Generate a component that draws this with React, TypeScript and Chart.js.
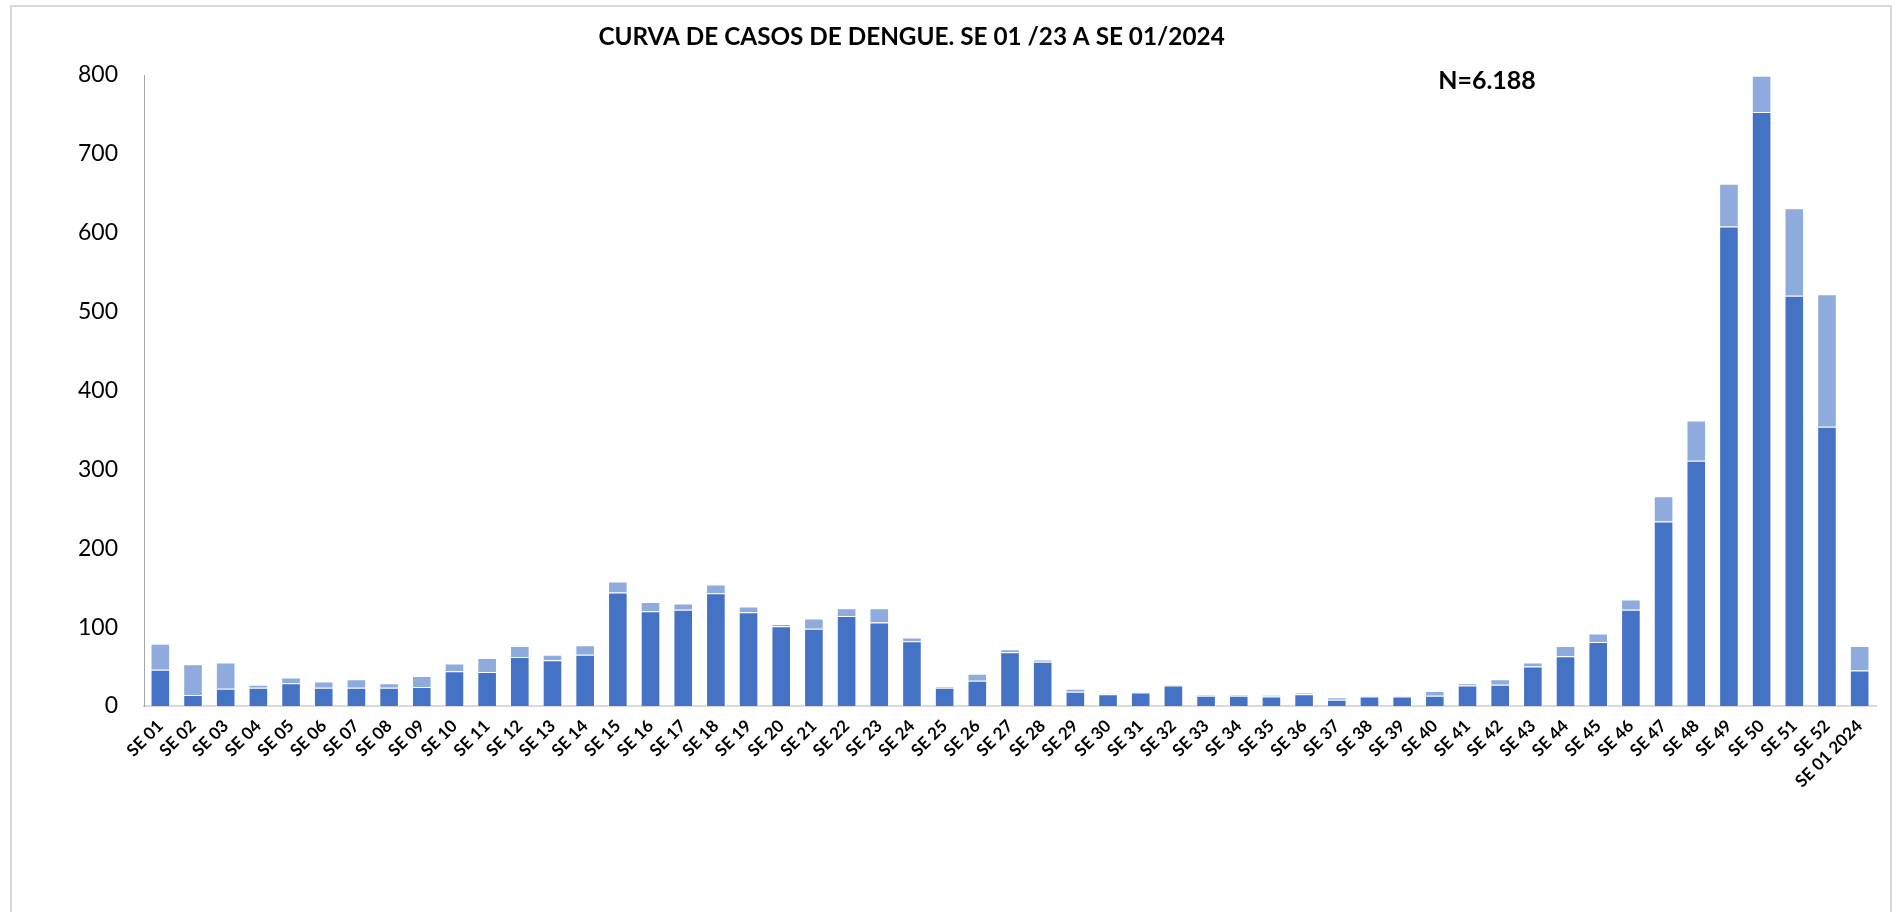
import React, { useEffect, useRef } from "react";
import { Chart, registerables } from "chart.js";

Chart.register(...registerables);

const CHART_TITLE = "CURVA DE CASOS DE DENGUE. SE 01 /23 A SE 01/2024";
const TOTAL_LABEL = "N=6.188";

const categories = [
  "SE 01", "SE 02", "SE 03", "SE 04", "SE 05", "SE 06", "SE 07", "SE 08", "SE 09", "SE 10",
  "SE 11", "SE 12", "SE 13", "SE 14", "SE 15", "SE 16", "SE 17", "SE 18", "SE 19", "SE 20",
  "SE 21", "SE 22", "SE 23", "SE 24", "SE 25", "SE 26", "SE 27", "SE 28", "SE 29", "SE 30",
  "SE 31", "SE 32", "SE 33", "SE 34", "SE 35", "SE 36", "SE 37", "SE 38", "SE 39", "SE 40",
  "SE 41", "SE 42", "SE 43", "SE 44", "SE 45", "SE 46", "SE 47", "SE 48", "SE 49", "SE 50",
  "SE 51", "SE 52", "SE 01 2024",
];

// lower (dark blue) segment
const seriesDark = [
  46, 14, 22, 23, 29, 23, 23, 23, 24, 44,
  43, 62, 58, 65, 144, 120, 122, 143, 119, 101,
  98, 114, 106, 82, 23, 32, 68, 56, 18, 15,
  17, 26, 13, 13, 12, 15, 8, 12, 12, 13,
  26, 27, 50, 63, 81, 122, 234, 311, 608, 753,
  520, 354, 45,
];

// upper (light blue) segment
const seriesLight = [
  33, 39, 33, 4, 7, 8, 11, 6, 14, 10,
  18, 14, 7, 12, 14, 12, 8, 11, 7, 3,
  13, 10, 18, 5, 2, 9, 4, 3, 4, 1,
  1, 1, 1, 1, 2, 2, 3, 1, 1, 6,
  3, 7, 5, 13, 11, 13, 32, 51, 54, 46,
  111, 168, 31,
];

const Y_MIN = 0;
const Y_MAX = 800;
const Y_STEP = 100;

const overlayText = {
  id: "overlayText",
  afterDraw(chart: any) {
    const ctx = chart.ctx;
    ctx.save();
    ctx.fillStyle = "#000000";
    ctx.textAlign = "center";
    ctx.textBaseline = "middle";
    ctx.font = "bold 24.3px Lato";
    ctx.fillText(CHART_TITLE, chart.width * 0.479, 30);
    ctx.font = "bold 25px Lato";
    ctx.fillText(TOTAL_LABEL, 1475, 74);
    ctx.restore();
  },
};

export default function App() {
  const ref = useRef<HTMLCanvasElement | null>(null);

  useEffect(() => {
    if (!ref.current) return;
    const chart = new Chart(ref.current, {
      type: "bar",
      data: {
        labels: categories,
        datasets: [
          {
            label: "Serie 1",
            data: seriesDark,
            backgroundColor: "#4472C4",
            borderColor: "rgba(255,255,255,0.55)",
            borderWidth: 1,
            barPercentage: 0.6,
            categoryPercentage: 1,
          },
          {
            label: "Serie 2",
            data: seriesLight,
            backgroundColor: "#8FAADC",
            borderColor: "rgba(255,255,255,0.55)",
            borderWidth: 1,
            barPercentage: 0.6,
            categoryPercentage: 1,
          },
        ],
      },
      options: {
        responsive: false,
        animation: false,
        layout: { padding: { top: 68, right: 14, bottom: 0, left: 0 } },
        plugins: {
          legend: { display: false },
          title: { display: false },
          tooltip: { enabled: false },
        },
        scales: {
          x: {
            stacked: true,
            grid: { display: false, drawTicks: false },
            border: { display: true, color: "#D9D9D9", width: 2 },
            ticks: {
              autoSkip: false,
              maxRotation: 45,
              minRotation: 45,
              padding: 10,
              color: "#000000",
              font: { family: "Lato", size: 17, weight: "bold" },
            },
            afterFit(scale: any) {
              scale.height = 206;
            },
          },
          y: {
            stacked: true,
            min: Y_MIN,
            max: Y_MAX,
            grid: { display: false, drawTicks: false },
            border: { display: true, color: "#A6A6A6", width: 1 },
            ticks: {
              stepSize: Y_STEP,
              padding: 26,
              color: "#000000",
              font: { family: "Lato", size: 23 },
            },
            afterFit(scale: any) {
              scale.width = 132;
            },
          },
        },
      },
      plugins: [overlayText],
    });
    return () => chart.destroy();
  }, []);

  return (
    <div
      style={{
        position: "absolute",
        left: 10,
        top: 5,
        width: 1882,
        height: 930,
        border: "2px solid #D9D9D9",
        boxSizing: "border-box",
        background: "#FFFFFF",
      }}
    >
      <canvas ref={ref} width={1878} height={905} style={{ display: "block" }} />
    </div>
  );
}
